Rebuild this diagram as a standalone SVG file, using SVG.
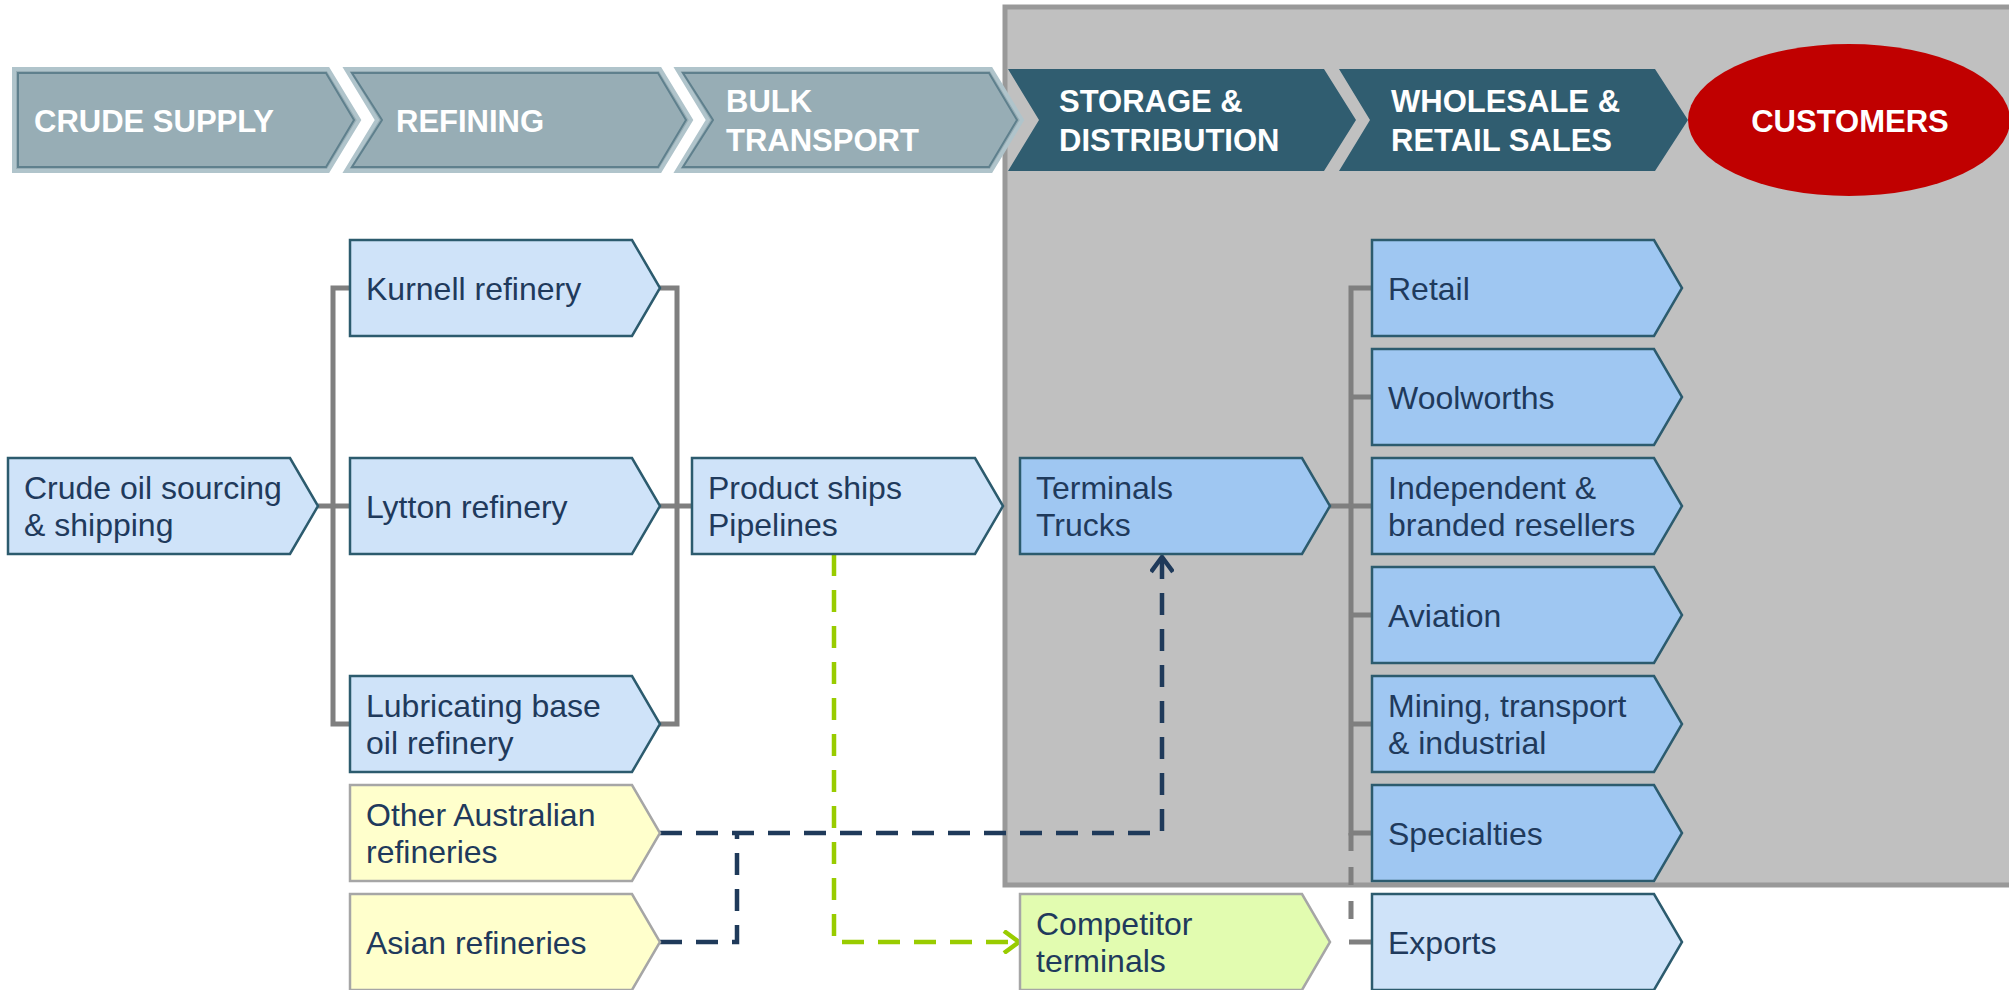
<svg xmlns="http://www.w3.org/2000/svg" width="2009" height="990" viewBox="0 0 2009 990">
  <style>
    .hdr-light { fill: #97adb5; stroke: #b0c4cb; stroke-width: 4; }
    .hdr-light-in { fill: none; stroke: #5f808d; stroke-width: 2; }
    .hdr-dark { fill: #305d70; }
    .hdr-text { font-family: "Liberation Sans", Arial, sans-serif; font-weight: bold; font-size: 31px; fill: #ffffff; }
    .node-light { fill: #cfe3f9; stroke: #2c5b6e; stroke-width: 2.5; }
    .node-mid { fill: #9fc7f2; stroke: #2c5b6e; stroke-width: 2.5; }
    .node-yellow { fill: #ffffcc; stroke: #a6a6a6; stroke-width: 2.5; }
    .node-green { fill: #e2fcb0; stroke: #a6a6a6; stroke-width: 2.5; }
    .label { font-family: "Liberation Sans", Arial, sans-serif; font-size: 32px; fill: #1f3a5c; }
    .link { fill: none; stroke: #7f7f7f; stroke-width: 5; }
    .link-dash { fill: none; stroke: #7f7f7f; stroke-width: 5; stroke-dasharray: 18 16; }
    .flow-navy { fill: none; stroke: #1f3a5a; stroke-width: 4.5; stroke-dasharray: 22 14; }
    .flow-green { fill: none; stroke: #99cc00; stroke-width: 4.5; stroke-dasharray: 22 14; }
  </style>
  <defs>
    <marker id="arrow-navy" markerUnits="userSpaceOnUse" markerWidth="24" markerHeight="24" refX="20" refY="12" orient="auto">
      <path d="M5,1 L20,12 L5,23" fill="none" stroke="#1f3a5a" stroke-width="4.5" stroke-linejoin="miter"/>
    </marker>
    <marker id="arrow-green" markerUnits="userSpaceOnUse" markerWidth="24" markerHeight="24" refX="20" refY="12" orient="auto">
      <path d="M5,1 L20,12 L5,23" fill="none" stroke="#99cc00" stroke-width="4.5" stroke-linejoin="miter"/>
    </marker>
  </defs>

  <rect width="2009" height="990" fill="#ffffff"/>

  <!-- shaded region behind the downstream stages -->
  <rect id="downstream-panel" x="1005" y="7" width="1020" height="878" fill="#c0c0c0" stroke="#999999" stroke-width="5"/>

  <!-- value-chain stage banners -->
  <g id="stage-crude">
    <polygon class="hdr-light" points="14,69 328,69 359,120 328,171 14,171"/>
    <polygon class="hdr-light-in" points="18,73 326,73 354,120 326,167 18,167"/>
    <text class="hdr-text" x="34" y="132">CRUDE SUPPLY</text>
  </g>
  <g id="stage-refining">
    <polygon class="hdr-light" points="346,69 660,69 691,120 660,171 346,171 377,120"/>
    <polygon class="hdr-light-in" points="352,73 658,73 686,120 658,167 352,167 382,120"/>
    <text class="hdr-text" x="396" y="132">REFINING</text>
  </g>
  <g id="stage-bulk">
    <polygon class="hdr-light" points="677,69 991,69 1022,120 991,171 677,171 708,120"/>
    <polygon class="hdr-light-in" points="683,73 989,73 1017,120 989,167 683,167 713,120"/>
    <text class="hdr-text" x="726" y="112">BULK</text>
    <text class="hdr-text" x="726" y="151">TRANSPORT</text>
  </g>
  <g id="stage-storage">
    <polygon class="hdr-dark" points="1008,69 1324,69 1356,120 1324,171 1008,171 1039,120"/>
    <text class="hdr-text" x="1059" y="112">STORAGE &amp;</text>
    <text class="hdr-text" x="1059" y="151">DISTRIBUTION</text>
  </g>
  <g id="stage-sales">
    <polygon class="hdr-dark" points="1339,69 1655,69 1688,120 1655,171 1339,171 1370,120"/>
    <text class="hdr-text" x="1391" y="112">WHOLESALE &amp;</text>
    <text class="hdr-text" x="1391" y="151">RETAIL SALES</text>
  </g>
  <g id="stage-customers">
    <ellipse cx="1849" cy="120" rx="161" ry="76" fill="#c00000"/>
    <text class="hdr-text" x="1850" y="132" text-anchor="middle">CUSTOMERS</text>
  </g>

  <!-- connectors -->
  <g id="connectors">
    <path class="link" d="M318,506 H350"/>
    <path class="link" d="M350,288 H333 V724 H350"/>
    <path class="link" d="M660,288 H677 V724 H660"/>
    <path class="link" d="M660,506 H692"/>
    <path class="link" d="M1330,506 H1351"/>
    <path class="link" d="M1372,288 H1351 V833 H1372"/>
    <path class="link" d="M1351,397 H1372 M1351,506 H1372 M1351,615 H1372 M1351,724 H1372"/>
    <path class="link-dash" d="M1351,833 V925"/>
    <path class="link" d="M1349,942 H1372"/>
    <path class="flow-navy" d="M660,833 H1162 V557" marker-end="url(#arrow-navy)"/>
    <path class="flow-navy" d="M660,942 H737 V833"/>
    <path class="flow-green" d="M834,554 V942 H1019" marker-end="url(#arrow-green)"/>
  </g>

  <!-- crude supply -->
  <g id="node-crude-oil">
    <polygon class="node-light" points="8,458 290,458 318,506 290,554 8,554"/>
    <text class="label" x="24" y="499">Crude oil sourcing</text>
    <text class="label" x="24" y="536">&amp; shipping</text>
  </g>

  <!-- refining -->
  <g id="node-kurnell">
    <polygon class="node-light" points="350,240 632,240 660,288 632,336 350,336"/>
    <text class="label" x="366" y="300">Kurnell refinery</text>
  </g>
  <g id="node-lytton">
    <polygon class="node-light" points="350,458 632,458 660,506 632,554 350,554"/>
    <text class="label" x="366" y="518">Lytton refinery</text>
  </g>
  <g id="node-lubricating">
    <polygon class="node-light" points="350,676 632,676 660,724 632,772 350,772"/>
    <text class="label" x="366" y="717">Lubricating base</text>
    <text class="label" x="366" y="754">oil refinery</text>
  </g>
  <g id="node-other-australian">
    <polygon class="node-yellow" points="350,785 632,785 660,833 632,881 350,881"/>
    <text class="label" x="366" y="826">Other Australian</text>
    <text class="label" x="366" y="863">refineries</text>
  </g>
  <g id="node-asian">
    <polygon class="node-yellow" points="350,894 632,894 660,942 632,990 350,990"/>
    <text class="label" x="366" y="954">Asian refineries</text>
  </g>

  <!-- bulk transport -->
  <g id="node-product-ships">
    <polygon class="node-light" points="692,458 975,458 1003,506 975,554 692,554"/>
    <text class="label" x="708" y="499">Product ships</text>
    <text class="label" x="708" y="536">Pipelines</text>
  </g>

  <!-- storage and distribution -->
  <g id="node-terminals">
    <polygon class="node-mid" points="1020,458 1302,458 1330,506 1302,554 1020,554"/>
    <text class="label" x="1036" y="499">Terminals</text>
    <text class="label" x="1036" y="536">Trucks</text>
  </g>
  <g id="node-competitor">
    <polygon class="node-green" points="1020,894 1302,894 1330,942 1302,990 1020,990"/>
    <text class="label" x="1036" y="935">Competitor</text>
    <text class="label" x="1036" y="972">terminals</text>
  </g>

  <!-- wholesale and retail sales -->
  <g id="node-retail">
    <polygon class="node-mid" points="1372,240 1654,240 1682,288 1654,336 1372,336"/>
    <text class="label" x="1388" y="300">Retail</text>
  </g>
  <g id="node-woolworths">
    <polygon class="node-mid" points="1372,349 1654,349 1682,397 1654,445 1372,445"/>
    <text class="label" x="1388" y="409">Woolworths</text>
  </g>
  <g id="node-resellers">
    <polygon class="node-mid" points="1372,458 1654,458 1682,506 1654,554 1372,554"/>
    <text class="label" x="1388" y="499">Independent &amp;</text>
    <text class="label" x="1388" y="536">branded resellers</text>
  </g>
  <g id="node-aviation">
    <polygon class="node-mid" points="1372,567 1654,567 1682,615 1654,663 1372,663"/>
    <text class="label" x="1388" y="627">Aviation</text>
  </g>
  <g id="node-mining">
    <polygon class="node-mid" points="1372,676 1654,676 1682,724 1654,772 1372,772"/>
    <text class="label" x="1388" y="717">Mining, transport</text>
    <text class="label" x="1388" y="754">&amp; industrial</text>
  </g>
  <g id="node-specialties">
    <polygon class="node-mid" points="1372,785 1654,785 1682,833 1654,881 1372,881"/>
    <text class="label" x="1388" y="845">Specialties</text>
  </g>
  <g id="node-exports">
    <polygon class="node-light" points="1372,894 1654,894 1682,942 1654,990 1372,990"/>
    <text class="label" x="1388" y="954">Exports</text>
  </g>
</svg>
